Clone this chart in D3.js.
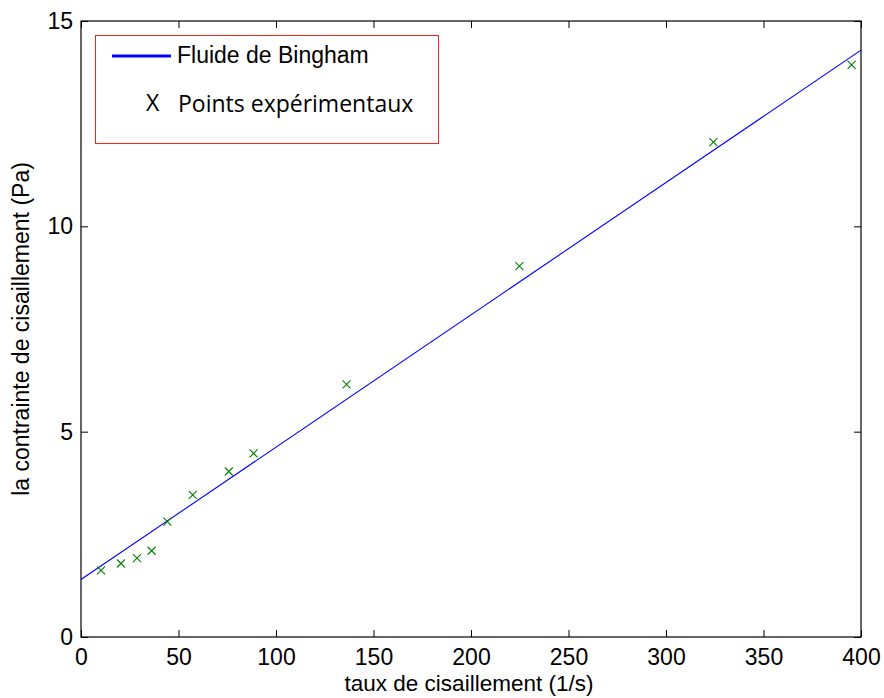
<!DOCTYPE html>
<html>
<head>
<meta charset="utf-8">
<script src="https://cdn.jsdelivr.net/npm/d3@7"></script>
<style>
  html, body { margin: 0; padding: 0; background: #fff; }
  svg { display: block; }
  text { font-family: "Liberation Sans", Arial, sans-serif; fill: #000; }
</style>
</head>
<body>
<svg id="chart" width="884" height="698"></svg>
<script>
// Shear rate (1/s) and measured shear stress (Pa)
const shearRate = [10.3, 20.5, 28.7, 36.2, 44.3, 57.3, 75.8, 88.5, 136.2, 224.8, 324.3, 395.2];
const shearStress = [1.62, 1.79, 1.92, 2.10, 2.81, 3.46, 4.03, 4.47, 6.15, 9.03, 12.05, 13.93];

// Bingham fit line end points
const fitRate = [0, 400];
const fitStress = [1.40, 14.29];

const xTicks = [0, 50, 100, 150, 200, 250, 300, 350, 400];
const yTicks = [0, 5, 10, 15];

const legendLabels = ["Fluide de Bingham", "Points expérimentaux"];
const xTitle = "taux de cisaillement (1/s)";
const yTitle = "la contrainte de cisaillement (Pa)";

const W = 884, H = 698;
const m = { left: 81, right: 23, top: 21, bottom: 61 };
const iw = W - m.left - m.right, ih = H - m.top - m.bottom;

const svg = d3.select("#chart");
const g = svg.append("g").attr("transform", `translate(${m.left},${m.top})`);

const x = d3.scaleLinear().domain([0, 400]).range([0, iw]);
const y = d3.scaleLinear().domain([0, 15]).range([ih, 0]);

const tickLen = 7;
const fs = "23px";

// bottom axis
const xb = g.append("g").attr("transform", `translate(0,${ih})`)
  .call(d3.axisBottom(x).tickValues(xTicks).tickFormat(d3.format("d")).tickSize(-tickLen).tickPadding(12));
// top axis (ticks only)
const xt = g.append("g")
  .call(d3.axisTop(x).tickValues(xTicks).tickFormat("").tickSize(-tickLen));
// left axis
const yl = g.append("g")
  .call(d3.axisLeft(y).tickValues(yTicks).tickFormat(d3.format("d")).tickSize(-tickLen).tickPadding(8));
// right axis (ticks only)
const yr = g.append("g").attr("transform", `translate(${iw},0)`)
  .call(d3.axisRight(y).tickValues(yTicks).tickFormat("").tickSize(-tickLen));

[xb, xt, yl, yr].forEach(a => {
  a.select(".domain").remove();
  a.selectAll(".tick line").attr("stroke", "#000").attr("stroke-width", 1);
  a.selectAll(".tick text").style("font-size", fs).style("font-family", "Liberation Sans, Arial, sans-serif").attr("fill", "#000");
});
// plot frame
g.append("rect").attr("width", iw).attr("height", ih)
  .attr("fill", "none").attr("stroke", "#000").attr("stroke-width", 1.2);

// fit line
const line = d3.line().x(d => x(d[0])).y(d => y(d[1]));
g.append("clipPath").attr("id", "plotclip")
  .append("rect").attr("width", iw).attr("height", ih);
g.append("path")
  .datum(fitRate.map((r, i) => [r, fitStress[i]]))
  .attr("d", line)
  .attr("clip-path", "url(#plotclip)")
  .attr("fill", "none").attr("stroke", "#0000ff").attr("stroke-width", 1.1);

// measured points as crosses
const s = 4;
g.append("g").selectAll("path")
  .data(shearRate.map((r, i) => [r, shearStress[i]]))
  .join("path")
  .attr("d", d => {
    const cx = x(d[0]), cy = y(d[1]);
    return `M${cx - s},${cy - s}L${cx + s},${cy + s}M${cx - s},${cy + s}L${cx + s},${cy - s}`;
  })
  .attr("stroke", "#008000").attr("stroke-width", 1.1).attr("fill", "none");

// axis titles
svg.append("text")
  .attr("x", m.left + iw / 2 - 2).attr("y", 691)
  .attr("text-anchor", "middle")
  .style("font-size", "22.5px")
  .text(xTitle);
svg.append("text")
  .attr("transform", `translate(29,${m.top + ih / 2}) rotate(-90)`)
  .attr("text-anchor", "middle")
  .style("font-size", "23px")
  .text(yTitle);

// legend
const lg = svg.append("g");
lg.append("rect")
  .attr("x", 95.5).attr("y", 35.5).attr("width", 343).attr("height", 108)
  .attr("fill", "#fff").attr("stroke", "#ff2020").attr("stroke-width", 1);
lg.append("line")
  .attr("x1", 112).attr("x2", 171).attr("y1", 56).attr("y2", 56)
  .attr("stroke", "#0000ff").attr("stroke-width", 3);
lg.append("text")
  .attr("x", 177).attr("y", 63)
  .style("font-size", "23px")
  .text(legendLabels[0]);
lg.append("text")
  .attr("x", 146).attr("y", 111)
  .style("font-family", "'Open Sans', sans-serif")
  .style("font-size", "23px")
  .text("X");
lg.append("text")
  .attr("x", 178).attr("y", 112)
  .style("font-family", "'Open Sans', sans-serif")
  .style("font-size", "23px")
  .text(legendLabels[1]);
</script>
</body>
</html>
